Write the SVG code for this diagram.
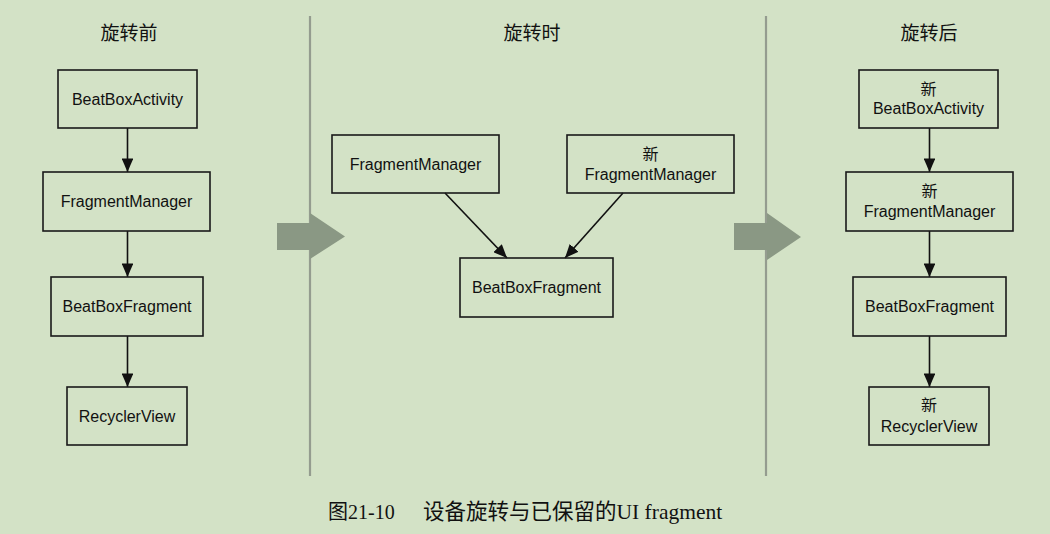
<svg xmlns="http://www.w3.org/2000/svg" width="1050" height="534" viewBox="0 0 1050 534">
<style>
.bg{fill:#d3e2c6}
.box{fill:none;stroke:#1a1a1a;stroke-width:1.6}
.lbl{font-family:"Liberation Sans","Noto Sans CJK SC",sans-serif;font-size:16px;fill:#111;text-anchor:middle}
.ttl{font-family:"Liberation Serif","Noto Sans CJK SC",serif;font-size:19px;fill:#111;text-anchor:middle}
.cap{font-family:"Liberation Serif","Noto Sans CJK SC",serif;font-size:21.5px;fill:#111}
.edge{fill:none;stroke:#111;stroke-width:1.6}
.sep{stroke:#949c8f;stroke-width:2.2}
.big{fill:#8a9884}
</style>
<defs>
<marker id="ah" viewBox="0 0 14 12" refX="14" refY="6" markerWidth="8.5" markerHeight="7.3" markerUnits="strokeWidth" orient="auto">
<path d="M0,0 L14,6 L0,12 z" fill="#111"/>
</marker>
</defs>
<rect class="bg" x="0" y="0" width="1050" height="534"/>
<g id="separators">
<line class="sep" x1="310" y1="16" x2="310" y2="476"/>
<line class="sep" x1="766" y1="16" x2="766" y2="476"/>
<path class="big" d="M277,223 H310 V213 L345,236.5 L310,259 V250 H277 Z"/>
<path class="big" d="M734,223 H767 V213 L801,237 L767,260 V250 H734 Z"/>
</g>
<g id="titles">
<text class="ttl" x="129" y="40">旋转前</text>
<text class="ttl" x="532" y="40">旋转时</text>
<text class="ttl" x="929" y="40">旋转后</text>
</g>
<g id="connectors">
<line class="edge" x1="127.5" y1="128" x2="127.5" y2="172" marker-end="url(#ah)"/>
<line class="edge" x1="127.5" y1="231" x2="127.5" y2="277" marker-end="url(#ah)"/>
<line class="edge" x1="127.5" y1="336" x2="127.5" y2="387" marker-end="url(#ah)"/>
<line class="edge" x1="445" y1="193" x2="507" y2="258" marker-end="url(#ah)"/>
<line class="edge" x1="623" y1="193" x2="565" y2="258" marker-end="url(#ah)"/>
<line class="edge" x1="929.5" y1="128" x2="929.5" y2="172" marker-end="url(#ah)"/>
<line class="edge" x1="929.5" y1="231" x2="929.5" y2="277" marker-end="url(#ah)"/>
<line class="edge" x1="929.5" y1="336" x2="929.5" y2="387" marker-end="url(#ah)"/>
</g>
<g id="before-activity">
<rect class="box" x="58" y="70" width="139" height="58"/>
<text class="lbl" x="127.5" y="105">BeatBoxActivity</text>
</g>
<g id="before-fm">
<rect class="box" x="43" y="172" width="167" height="59"/>
<text class="lbl" x="126.5" y="207">FragmentManager</text>
</g>
<g id="before-fragment">
<rect class="box" x="51" y="277" width="152" height="59"/>
<text class="lbl" x="127" y="312">BeatBoxFragment</text>
</g>
<g id="before-rv">
<rect class="box" x="67" y="387" width="120" height="58"/>
<text class="lbl" x="127" y="422">RecyclerView</text>
</g>
<g id="during-fm">
<rect class="box" x="332" y="135" width="167" height="58"/>
<text class="lbl" x="415.5" y="170">FragmentManager</text>
</g>
<g id="during-newfm">
<rect class="box" x="567" y="135" width="167" height="58"/>
<text class="lbl" x="650.5" y="160">新</text>
<text class="lbl" x="650.5" y="180">FragmentManager</text>
</g>
<g id="during-fragment">
<rect class="box" x="460" y="258" width="153" height="59"/>
<text class="lbl" x="536.5" y="293">BeatBoxFragment</text>
</g>
<g id="after-activity">
<rect class="box" x="859" y="70" width="139" height="58"/>
<text class="lbl" x="928.5" y="95">新</text>
<text class="lbl" x="928.5" y="114">BeatBoxActivity</text>
</g>
<g id="after-fm">
<rect class="box" x="846" y="172" width="167" height="59"/>
<text class="lbl" x="929.5" y="197">新</text>
<text class="lbl" x="929.5" y="217">FragmentManager</text>
</g>
<g id="after-fragment">
<rect class="box" x="853" y="277" width="153" height="59"/>
<text class="lbl" x="929.5" y="312">BeatBoxFragment</text>
</g>
<g id="after-rv">
<rect class="box" x="869" y="387" width="120" height="58"/>
<text class="lbl" x="929" y="411">新</text>
<text class="lbl" x="929" y="432">RecyclerView</text>
</g>
<g id="caption">
<text class="cap" x="328" y="519" style="font-size:20px">图21-10</text>
<text class="cap" x="423" y="519">设备旋转与已保留的UI fragment</text>
</g>
</svg>
